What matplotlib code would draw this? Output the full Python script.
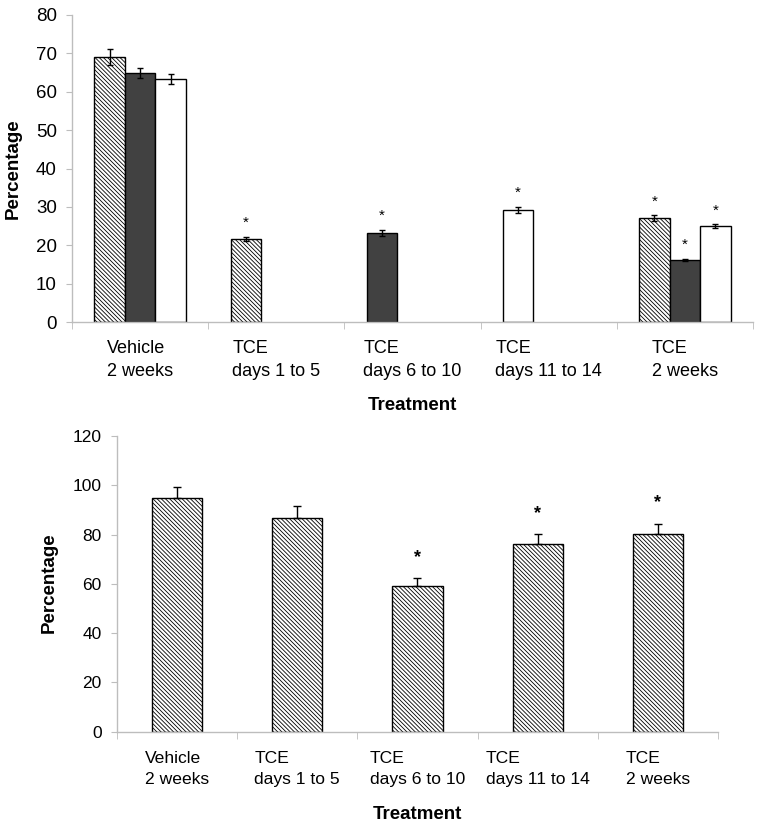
import matplotlib
matplotlib.use('Agg')
import matplotlib.pyplot as plt
from matplotlib.ticker import FixedLocator

plt.rcParams['font.family'] = ['Liberation Sans', 'DejaVu Sans']
plt.rcParams['hatch.linewidth'] = 0.6
plt.rcParams['hatch.color'] = '#404040'

# Data
categories = ['Vehicle\n2 weeks', 'TCE\ndays 1 to 5', 'TCE\ndays 6 to 10',
              'TCE\ndays 11 to 14', 'TCE\n2 weeks']

# top panel: three series, None = not measured
series_a = [69.0, 21.6, None, None, 27.1]
series_b = [64.9, None, 23.3, None, 16.1]
series_c = [63.3, None, None, 29.3, 25.0]
err_a = [2.1, 0.6, None, None, 0.7]
err_b = [1.2, None, 0.8, None, 0.3]
err_c = [1.2, None, None, 0.8, 0.5]
sig_a = [False, True, False, False, True]
sig_b = [False, False, True, False, True]
sig_c = [False, False, False, True, True]

# bottom panel
bottom_vals = [94.7, 86.9, 59.3, 76.1, 80.2]
bottom_err = [4.7, 4.7, 3.0, 4.1, 4.2]
bottom_sig = [False, False, True, True, True]

AXIS_GRAY = '#bdbdbd'
HATCH = '\\' * 8

fig = plt.figure(figsize=(7.62, 8.27), dpi=100)
ax1 = fig.add_axes([0.0945, 0.6106, 0.8935, 0.3713])
ax2 = fig.add_axes([0.1535, 0.1152, 0.7888, 0.3576])


def style_axis(ax, n, xsize, ysize, pad, spacing):
    for s in ['top', 'right']:
        ax.spines[s].set_visible(False)
    for s in ['left', 'bottom']:
        ax.spines[s].set_color(AXIS_GRAY)
        ax.spines[s].set_linewidth(1.0)
    ax.set_xlim(-0.5, n - 0.5)
    ax.set_xticks(range(n))
    ax.set_xticklabels(categories, fontsize=xsize, multialignment='left', linespacing=spacing)
    ax.xaxis.set_minor_locator(FixedLocator([i + 0.5 for i in range(-1, n)]))
    ax.tick_params(axis='x', which='major', length=0, pad=pad)
    ax.tick_params(axis='x', which='minor', length=5, color=AXIS_GRAY, direction='out')
    ax.tick_params(axis='y', length=4, color=AXIS_GRAY, labelsize=ysize, pad=7)
    ax.set_xlabel('Treatment', fontsize=13.5, fontweight='bold')
    ax.set_ylabel('Percentage', fontsize=13.5, fontweight='bold')


# ---- top panel
w = 0.224
styles = [dict(facecolor='white', hatch=HATCH),
          dict(facecolor='#414141'),
          dict(facecolor='white')]
all_series = [(series_a, err_a, sig_a), (series_b, err_b, sig_b), (series_c, err_c, sig_c)]

for i in range(len(categories)):
    k = 0
    for s, (vals, errs, sigs) in enumerate(all_series):
        if vals[i] is None:
            continue
        x = i - w + k * w
        k += 1
        ax1.bar(x, vals[i], width=w, edgecolor='black', linewidth=1.0, zorder=2, **styles[s])
        ax1.errorbar(x, vals[i], yerr=errs[i], fmt='none', ecolor='black',
                     elinewidth=1.0, capsize=2.3, capthick=1.0, zorder=3)
        if sigs[i]:
            ax1.text(x, vals[i] + errs[i] + 3.6, '*', ha='center', va='center', fontsize=11)

ax1.set_ylim(0, 80)
ax1.set_yticks(range(0, 81, 10))
style_axis(ax1, len(categories), 13, 13.5, 13, 1.45)
ax1.yaxis.set_label_coords(-0.074, 0.5)
ax1.xaxis.set_label_coords(0.5, -0.245)

# ---- bottom panel
w2 = 0.416
xs = list(range(len(categories)))
ax2.bar(xs, bottom_vals, width=w2, facecolor='white', hatch=HATCH,
        edgecolor='black', linewidth=1.0, zorder=2)
ax2.errorbar(xs, bottom_vals, yerr=[[0] * len(bottom_err), bottom_err], fmt='none',
             ecolor='black', elinewidth=1.0, capsize=3, capthick=1.0, zorder=3)
for x, v, e, s in zip(xs, bottom_vals, bottom_err, bottom_sig):
    if s:
        ax2.text(x, v + e + 8.5, '*', ha='center', va='center', fontsize=13, fontweight='bold')

ax2.set_ylim(0, 120)
ax2.set_yticks(range(0, 121, 20))
style_axis(ax2, len(categories), 12.6, 12.5, 14, 1.5)
ax2.yaxis.set_label_coords(-0.099, 0.503)
ax2.xaxis.set_label_coords(0.5, -0.25)

fig.savefig('out.png', dpi=100)
